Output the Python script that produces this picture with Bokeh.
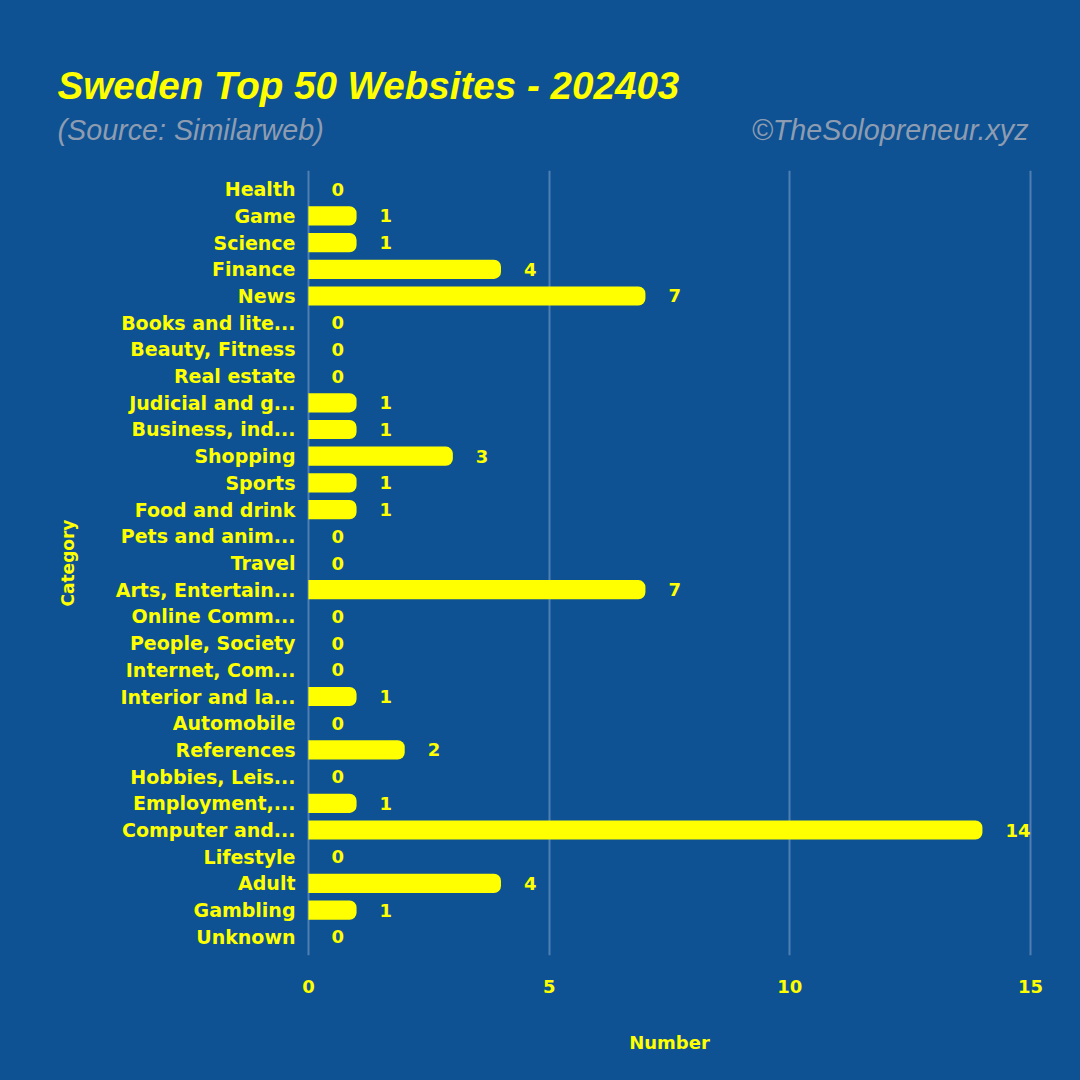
from bokeh.plotting import figure
from bokeh.models import FactorRange, Range1d, ColumnDataSource, FixedTicker
from bokeh.core.properties import value
from bokeh.embed import file_html
from bokeh.resources import INLINE

categories = [
    "Health", "Game", "Science", "Finance", "News", "Books and lite...",
    "Beauty, Fitness", "Real estate", "Judicial and g...", "Business, ind...",
    "Shopping", "Sports", "Food and drink", "Pets and anim...", "Travel",
    "Arts, Entertain...", "Online Comm...", "People, Society", "Internet, Com...",
    "Interior and la...", "Automobile", "References", "Hobbies, Leis...",
    "Employment,...", "Computer and...", "Lifestyle", "Adult", "Gambling", "Unknown",
]
counts = [0, 1, 1, 4, 7, 0, 0, 0, 1, 1, 3, 1, 1, 0, 0, 7, 0, 0, 0, 1, 0, 2, 0, 1, 14, 0, 4, 1, 0]
x_ticks = [0, 5, 10, 15]

title_text = "Sweden Top 50 Websites - 202403"
source_text = "(Source: Similarweb)"
credit_text = "\u00a9TheSolopreneur.xyz"

BG = "#0E5293"
YELLOW = "#FFFF00"
GREY = "#8E9CB1"

W = 1080
HEAD_H = 170
MAIN_H = 910
LEFT, RIGHT, BOTTOM = 306, 48, 125
PAD = 0.04

# ---------- header (title, source, credit) ----------
head = figure(width=W, height=HEAD_H, x_range=Range1d(0, W), y_range=Range1d(0, HEAD_H),
              output_backend="svg", toolbar_location=None,
              x_axis_location=None, y_axis_location=None,
              min_border=0, background_fill_color=None, border_fill_color=None,
              styles={"background-color": BG})
head.outline_line_color = None
head.grid.grid_line_color = None

head.text(x=[57], y=[HEAD_H - 85], text=[title_text], text_color=YELLOW,
          text_font=value("Liberation Sans"), text_font_style="bold italic",
          text_font_size="38.6px", text_baseline="alphabetic", text_align="left")
head.text(x=[57], y=[HEAD_H - 129], text=[source_text], text_color=GREY,
          text_font=value("Liberation Sans"), text_font_style="italic",
          text_font_size="28.7px", text_baseline="alphabetic", text_align="left")
head.text(x=[1028], y=[HEAD_H - 129], text=[credit_text], text_color=GREY,
          text_font=value("Liberation Sans"), text_font_style="italic",
          text_font_size="28.7px", text_baseline="alphabetic", text_align="right")

# ---------- main chart ----------
src = ColumnDataSource(dict(cat=categories, n=counts, lbl=[str(c) for c in counts]))

p = figure(
    width=W, height=MAIN_H,
    y_range=FactorRange(factors=list(reversed(categories)), range_padding=0.2,
                        range_padding_units="absolute"),
    x_range=Range1d(min(x_ticks) - PAD, max(x_ticks) + PAD),
    output_backend="svg", toolbar_location=None,
    min_border_left=LEFT, min_border_right=RIGHT,
    min_border_top=0, min_border_bottom=BOTTOM,
    background_fill_color=None, border_fill_color=None,
    styles={"background-color": BG},
)
p.outline_line_color = None

p.hbar(y="cat", right="n", left=0, height=0.72, source=src,
       fill_color=YELLOW, line_color=None,
       border_radius=(0, 7, 7, 0))

p.text(x="n", y="cat", text="lbl", source=src, x_offset=23,
       text_align="left", text_baseline="middle",
       text_color=YELLOW, text_font=value("DejaVu Sans"), text_font_style="bold",
       text_font_size="18px")

p.xaxis.ticker = FixedTicker(ticks=x_ticks)
p.xaxis.axis_line_color = None
p.xaxis.major_tick_line_color = None
p.xaxis.minor_tick_line_color = None
p.xaxis.major_label_text_color = YELLOW
p.xaxis.major_label_text_font = "DejaVu Sans"
p.xaxis.major_label_text_font_style = "bold"
p.xaxis.major_label_text_font_size = "18px"
p.xaxis.major_label_standoff = 18
p.xaxis.axis_label = "Number"
p.xaxis.axis_label_text_color = YELLOW
p.xaxis.axis_label_text_font = "DejaVu Sans"
p.xaxis.axis_label_text_font_style = "bold"
p.xaxis.axis_label_text_font_size = "18px"
p.xaxis.axis_label_standoff = 36

p.yaxis.axis_line_color = None
p.yaxis.major_tick_line_color = None
p.yaxis.minor_tick_line_color = None
p.yaxis.major_label_text_color = YELLOW
p.yaxis.major_label_text_font = "DejaVu Sans"
p.yaxis.major_label_text_font_style = "bold"
p.yaxis.major_label_text_font_size = "19px"
p.yaxis.major_label_standoff = 5
p.yaxis.axis_label = "Category"
p.yaxis.axis_label_text_color = YELLOW
p.yaxis.axis_label_text_font = "DejaVu Sans"
p.yaxis.axis_label_text_font_style = "bold"
p.yaxis.axis_label_text_font_size = "17px"
p.yaxis.axis_label_standoff = 35

p.ygrid.grid_line_color = None
p.xgrid.grid_line_color = "#8FAACE"
p.xgrid.grid_line_alpha = 0.5
p.xgrid.grid_line_width = 2

# two independent roots stacked on the page (no frame alignment between them)
open("out.html", "w").write(file_html([head, p], INLINE))
